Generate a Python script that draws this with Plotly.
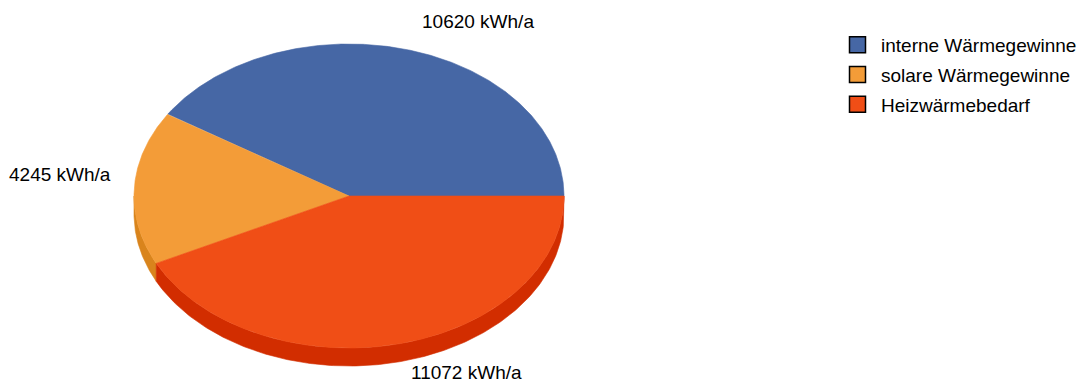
import numpy as np
import plotly.graph_objects as go

# ---- data ----
categories = ["interne Wärmegewinne", "solare Wärmegewinne", "Heizwärmebedarf"]
values = [10620, 4245, 11072]
value_labels = ["10620 kWh/a", "4245 kWh/a", "11072 kWh/a"]

# ---- styling ----
top_colors = ["#4667a5", "#f39c38", "#f04e16"]
side_colors = ["#324c80", "#d9841c", "#d22d00"]
FONT = "Liberation Sans, Arial, sans-serif"

W, H = 1090, 383
cx, cy = 349, 196      # ellipse centre (px)
rx, ry = 215, 152      # radii (px)
depth = 18             # 3D thickness (px)
label_pos = [(478, 21), (60, 174), (466, 372)]

total = float(sum(values))
fracs = [v / total for v in values]
bounds = np.concatenate([[0.0], np.cumsum(fracs)]) * 360.0

def pt(t_deg, dy=0.0):
    t = np.radians(t_deg)
    return cx + rx * np.cos(t), cy - ry * np.sin(t) + dy

fig = go.Figure()

# side faces (front half: 180..360 deg)
for i in range(len(values)):
    a0, a1 = max(bounds[i], 180.0), min(bounds[i + 1], 360.0)
    if a1 <= a0:
        continue
    ts = np.linspace(a0, a1, 200)
    xt, yt = pt(ts)
    xb, yb = pt(ts[::-1], depth)
    xs = np.concatenate([xt, xb, xt[:1]])
    ys = np.concatenate([yt, yb, yt[:1]])
    fig.add_trace(go.Scatter(x=xs, y=ys, mode="lines", fill="toself",
                             fillcolor=side_colors[i],
                             line=dict(color=side_colors[i], width=0.6),
                             hoverinfo="skip", showlegend=False))

# top faces
for i in range(len(values)):
    ts = np.linspace(bounds[i], bounds[i + 1], 300)
    xa, ya = pt(ts)
    xs = np.concatenate([[cx], xa, [cx]])
    ys = np.concatenate([[cy], ya, [cy]])
    fig.add_trace(go.Scatter(x=xs, y=ys, mode="lines", fill="toself",
                             fillcolor=top_colors[i],
                             line=dict(color=top_colors[i], width=0.6),
                             name=categories[i], hoverinfo="skip",
                             showlegend=False))

# legend entries
for i in range(len(values)):
    fig.add_trace(go.Scatter(x=[None], y=[None], mode="markers",
                             marker=dict(symbol="square", size=16,
                                         color=top_colors[i],
                                         line=dict(color="black", width=1.5)),
                             name=categories[i], legendgroup="g%d" % i,
                             showlegend=True))

# value labels
for (lx, ly), txt in zip(label_pos, value_labels):
    fig.add_annotation(x=lx, y=ly, text=txt, showarrow=False,
                       xanchor="center", yanchor="middle",
                       font=dict(family=FONT, size=19, color="black"))

fig.update_layout(
    width=W, height=H,
    margin=dict(l=0, r=0, t=0, b=0),
    paper_bgcolor="white", plot_bgcolor="white",
    xaxis=dict(range=[0, W], visible=False, fixedrange=True),
    yaxis=dict(range=[H, 0], visible=False, fixedrange=True),
    showlegend=True,
    legend=dict(x=834 / W, y=1 - 26 / H, xanchor="left", yanchor="top",
                font=dict(family=FONT, size=19, color="black"),
                bgcolor="rgba(0,0,0,0)", itemsizing="trace",
                itemwidth=37, tracegroupgap=2),
)

fig.write_html("out.html")
